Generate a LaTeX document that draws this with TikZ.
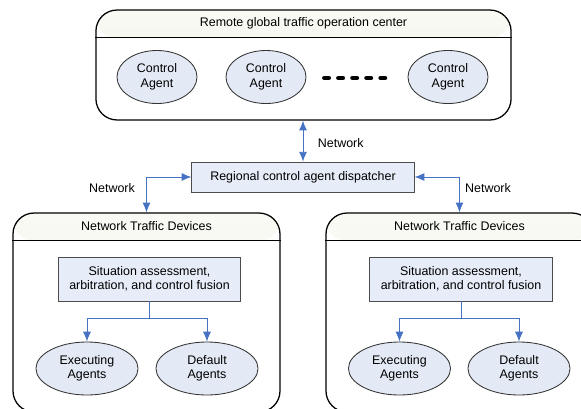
\documentclass[tikz,border=0pt]{standalone}
\usepackage{fontspec}
\setmainfont{Liberation Sans}
\usetikzlibrary{shapes.geometric, arrows.meta, positioning}
\definecolor{agentfill}{RGB}{228,234,245}
\definecolor{boxfill}{RGB}{230,236,248}
\definecolor{headtop}{RGB}{250,250,245}
\definecolor{headfill}{RGB}{240,240,228}
\definecolor{linkblue}{RGB}{70,114,196}
\tikzset{
  container/.style 2 args={draw, line width=0.9pt, rounded corners=15pt,
    minimum width=#1, minimum height=#2, inner sep=0pt,
    path picture={\shade[top color=headtop, bottom color=headfill]
      (path picture bounding box.north west) rectangle
      ([yshift=-19.9pt]path picture bounding box.north east);}},
  headline/.style={line width=0.9pt},
  agent/.style={ellipse, draw=black!80, line width=0.6pt, fill=agentfill,
    align=center, minimum width=56.9pt, minimum height=37.7pt, inner sep=0pt},
  proc/.style={rectangle, draw=black!70, line width=0.6pt, fill=boxfill,
    align=center, inner sep=0pt},
  link/.style={draw=linkblue, line width=0.7pt}
}

\begin{document}
\begin{tikzpicture}[x=0.025cm, y=-0.025cm, font=\fontsize{8.85pt}{10.3pt}\selectfont,
  >={Latex[length=7pt,width=5.7pt,fill=linkblue]}]
\clip (0,0) rectangle (581,409);

% remote center
\node[container={295.2pt}{78.2pt}] (rgc) at (303.5,65) {};
\draw[headline] ([yshift=-19.9pt]rgc.north west) -- ([yshift=-19.9pt]rgc.north east);
\node at ([yshift=-9.95pt]rgc.north) {Remote global traffic operation center};
\node[agent] (ca1) at (157,77) {Control\\Agent};
\node[agent] (ca2) at (266,77) {Control\\Agent};
\node[agent] (ca3) at (448,77) {Control\\Agent};
\draw[line width=3.5pt, line cap=round, dash pattern=on 2.9pt off 7.1pt] (324.5,78) -- (385.5,78);

% dispatcher
\node[proc, minimum width=158pt, minimum height=21.3pt] (rcd) at (303,177) {Regional control agent dispatcher};
\draw[link,<->] (rcd.north |- rgc.south) -- (rcd.north);
\node[anchor=west] at (313,143) {Network};

% devices
\node[container={189.9pt}{141.5pt}] (ntdL) at (146.5,312.5) {};
\draw[headline] ([yshift=-19.9pt]ntdL.north west) -- ([yshift=-19.9pt]ntdL.north east);
\node at ([yshift=-9.95pt]ntdL.north) {Network Traffic Devices};
\node[container={189.9pt}{141.5pt}] (ntdR) at (459.5,312.5) {};
\draw[headline] ([yshift=-19.9pt]ntdR.north west) -- ([yshift=-19.9pt]ntdR.north east);
\node at ([yshift=-9.95pt]ntdR.north) {Network Traffic Devices};

\draw[link,<->] (rcd.west) -| (ntdL.north);
\draw[link,<->] (rcd.east) -| (ntdR.north);
\node at (112,188) {Network};
\node at (488,188) {Network};

% left device
\node[proc, minimum width=130pt, minimum height=31.3pt] (safL) at (149.5,279) {Situation assessment,\\arbitration, and control fusion};
\node[agent, minimum width=72.6pt] (exL) at (87,368.5) {Executing\\Agents};
\node[agent, minimum width=72.6pt] (dfL) at (207,368.5) {Default\\Agents};
\draw[link,->] (safL.south) -- ++(0,17) -| (exL.north);
\draw[link,->] (safL.south) -- ++(0,17) -| (dfL.north);

% right device
\node[proc, minimum width=130pt, minimum height=31.3pt] (safR) at (461,279) {Situation assessment,\\arbitration, and control fusion};
\node[agent, minimum width=72.6pt] (exR) at (399.5,368.5) {Executing\\Agents};
\node[agent, minimum width=72.6pt] (dfR) at (519,368.5) {Default\\Agents};
\draw[link,->] (safR.south) -- ++(0,17) -| (exR.north);
\draw[link,->] (safR.south) -- ++(0,17) -| (dfR.north);

\end{tikzpicture}
\end{document}
